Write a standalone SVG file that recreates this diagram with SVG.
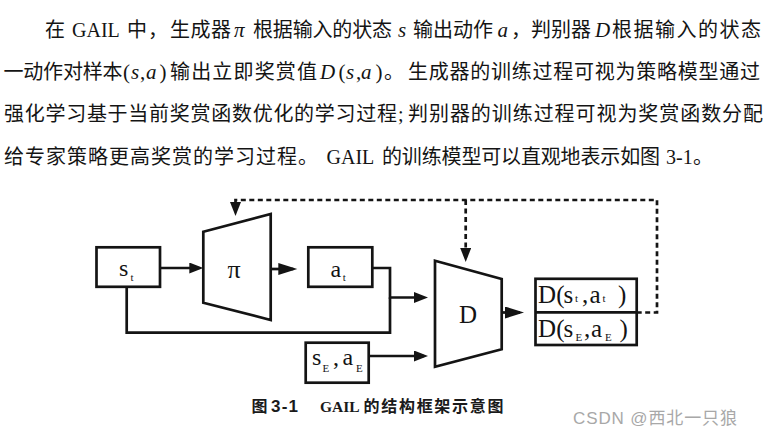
<svg xmlns="http://www.w3.org/2000/svg" width="771" height="438" viewBox="0 0 771 438">
<defs>
<style>
.t{font-family:"Liberation Serif","Noto Sans CJK SC",serif;font-size:20px;fill:#141414}
.m{font-family:"Liberation Serif",serif;font-size:21px;font-style:italic}
.u{font-family:"Liberation Serif",serif;font-size:21px;font-style:normal}
.shape{fill:#fff;stroke:#141414;stroke-width:2.7;stroke-linejoin:miter}
.lbl{font-family:"Liberation Serif",serif;fill:#141414}
.sub{font-size:11px}
.line{fill:none;stroke:#141414;stroke-width:2.7}
.dash{fill:none;stroke:#141414;stroke-width:2.7;stroke-dasharray:5 3.5}
.cap{font-family:"Liberation Sans","Noto Sans CJK SC",sans-serif;font-size:16px;font-weight:bold;fill:#1a1a1a}
.wm{font-family:"Liberation Sans","Noto Sans CJK SC",sans-serif;font-size:17px;fill:#a8a8a8}
</style>
<marker id="ah" markerUnits="userSpaceOnUse" markerWidth="16" markerHeight="14" refX="10" refY="5.5" orient="auto">
<path d="M0,0 L14,5.5 L0,11 z" fill="#141414"/>
</marker>
<marker id="ahl" markerUnits="userSpaceOnUse" markerWidth="22" markerHeight="14" refX="15" refY="6" orient="auto">
<path d="M0,0 L19,6 L0,12 z" fill="#141414"/>
</marker>
</defs>
<rect width="771" height="438" fill="#fff"/>

<g id="paragraph" class="t">
<text y="37"><tspan x="45">在</tspan><tspan x="72">GAIL</tspan><tspan x="127" textLength="41" lengthAdjust="spacing">中，</tspan><tspan x="170" textLength="61" lengthAdjust="spacing">生成器</tspan><tspan x="234" class="m">π</tspan><tspan x="253" textLength="139" lengthAdjust="spacing">根据输入的状态</tspan><tspan x="398" class="m">s</tspan><tspan x="413" textLength="80" lengthAdjust="spacing">输出动作</tspan><tspan x="497.5" class="m">a</tspan><tspan x="511" textLength="80" lengthAdjust="spacing">，判别器</tspan><tspan x="595" class="m">D</tspan><tspan x="612" textLength="149" lengthAdjust="spacing">根据输入的状态</tspan></text>
<text y="78.5"><tspan x="3.5" textLength="119" lengthAdjust="spacing">一动作对样本</tspan><tspan x="123" class="u">(</tspan><tspan x="131" class="m">s</tspan><tspan x="140" class="u">,</tspan><tspan x="146" class="m">a</tspan><tspan x="159.5" class="u">)</tspan><tspan x="170" textLength="147" lengthAdjust="spacing">输出立即奖赏值</tspan><tspan x="320" class="m">D</tspan><tspan x="338.5" class="u">(</tspan><tspan x="346" class="m">s</tspan><tspan x="356" class="u">,</tspan><tspan x="361" class="m">a</tspan><tspan x="375.5" class="u">)</tspan><tspan x="384">。</tspan><tspan x="408" textLength="352" lengthAdjust="spacing">生成器的训练过程可视为策略模型通过</tspan></text>
<text y="120.5"><tspan x="4" textLength="393" lengthAdjust="spacing">强化学习基于当前奖赏函数优化的学习过程</tspan><tspan x="398">;</tspan><tspan x="408" textLength="355" lengthAdjust="spacing">判别器的训练过程可视为奖赏函数分配</tspan></text>
<text y="163.5"><tspan x="4" textLength="314" lengthAdjust="spacing">给专家策略更高奖赏的学习过程。</tspan><tspan x="326.5">GAIL</tspan><tspan x="382" textLength="278" lengthAdjust="spacing">的训练模型可以直观地表示如图</tspan><tspan x="666">3-1</tspan><tspan x="693">。</tspan></text>
</g>

<g id="connectors">
<path class="line" d="M160,268 H199.3" marker-end="url(#ah)"/>
<path class="line" d="M270.7,269 H293.3" marker-end="url(#ahl)"/>
<path class="line" d="M372.3,268 H390 V297.5 H424" marker-end="url(#ah)"/>
<path class="line" d="M126.7,287 V332.7 H390 V297.5"/>
<path class="line" d="M368.7,356 H424" marker-end="url(#ah)"/>
<path class="line" d="M501.7,312.5 H520" marker-end="url(#ahl)"/>
<path class="dash" d="M636.7,312.5 H657 V200 H235.5 V212"/>
<path class="line" d="M235.5,210 V212" marker-end="url(#ah)"/>
<path class="dash" d="M465.7,200 V258"/>
<path class="line" d="M465.7,256 V258" marker-end="url(#ah)"/>
</g>

<g id="node-st">
<rect class="shape" x="96.5" y="247.3" width="63.5" height="39.5"/>
<text class="lbl"><tspan x="119" y="276" font-size="24">s</tspan><tspan x="130.5" y="280.5" class="sub">t</tspan></text>
</g>

<g id="node-pi">
<polygon class="shape" points="203.3,231.7 270.7,214 270.7,320 203.3,302.7"/>
<text class="lbl" x="234" y="278" font-size="26" text-anchor="middle">π</text>
</g>

<g id="node-at">
<rect class="shape" x="308.3" y="247.3" width="64" height="39.5"/>
<text class="lbl"><tspan x="330.5" y="276.5" font-size="24">a</tspan><tspan x="342.8" y="280.7" class="sub">t</tspan></text>
</g>

<g id="node-sEaE">
<rect class="shape" x="305.7" y="342.7" width="63" height="40"/>
<text class="lbl"><tspan x="312" y="365" font-size="24">s</tspan><tspan x="322.5" y="371.5" class="sub">E</tspan><tspan x="333" y="365" font-size="24">,</tspan><tspan x="342.5" y="365" font-size="24">a</tspan><tspan x="356" y="371.5" class="sub">E</tspan></text>
</g>

<g id="node-D">
<polygon class="shape" points="435,260.7 501.7,279 501.7,349.3 435,366.7"/>
<text class="lbl" x="468" y="322.5" font-size="25" text-anchor="middle">D</text>
</g>

<g id="node-output">
<rect class="shape" x="535.5" y="278.8" width="101.2" height="66.2"/>
<line class="line" x1="535.5" y1="312.3" x2="636.7" y2="312.3"/>
<text class="lbl" font-size="25"><tspan x="538" y="303">D</tspan><tspan x="556.2" y="303">(</tspan><tspan x="563.5" y="303">s</tspan><tspan x="575" y="301.5" class="sub">t</tspan><tspan x="582" y="303">,</tspan><tspan x="589.5" y="303">a</tspan><tspan x="602.5" y="301.5" class="sub">t</tspan><tspan x="618" y="303">)</tspan></text>
<text class="lbl" font-size="25"><tspan x="538" y="336.5">D</tspan><tspan x="556.2" y="336.5">(</tspan><tspan x="563.5" y="336.5">s</tspan><tspan x="575.5" y="341" class="sub">E</tspan><tspan x="584" y="336.5">,</tspan><tspan x="591" y="336.5">a</tspan><tspan x="605" y="341" class="sub">E</tspan><tspan x="619.5" y="336.5">)</tspan></text>
</g>

<g id="caption">
<text class="cap" y="411.5"><tspan x="251.5">图</tspan><tspan x="271" font-size="17" textLength="27" lengthAdjust="spacing">3-1</tspan><tspan x="320" font-family="Liberation Serif, serif" font-size="15.5">GAIL</tspan><tspan x="363.5" textLength="140" lengthAdjust="spacing">的结构框架示意图</tspan></text>
<text class="wm" x="573" y="423.5" textLength="164" lengthAdjust="spacing">CSDN @西北一只狼</text>
</g>
</svg>
